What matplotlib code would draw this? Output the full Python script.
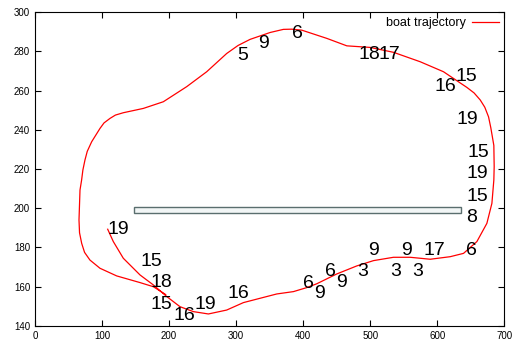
import matplotlib.pyplot as plt
from matplotlib.patches import Rectangle

plt.rcParams['font.family'] = ['Liberation Sans', 'DejaVu Sans']

# boat trajectory
traj_x = [108.5, 116.9, 131.8, 156.7, 176.6, 196.5, 216.4, 236.3, 258.7, 286,
          311, 335.8, 360.7, 385.6, 405, 420.4, 450.2, 480.1, 505, 534.8,
          559.7, 589.6, 619.4, 639.3, 659.2, 674.1, 681.6, 684.5, 685, 684.5,
          680, 676.6, 671, 664.2, 655, 644.3, 609.4, 574.6, 534.8, 500, 465.2,
          435.4, 398, 383, 370.6, 350.7, 320.9, 303, 286, 256.2, 226.4, 191.5,
          161.7, 131.8, 120, 111.9, 103, 97, 84.6, 78, 74.6, 71.5, 69.6, 67.2,
          65.7, 66.5, 69.7, 74, 82, 97, 121.9, 156.7, 176.6, 195]
traj_y = [189.3, 183, 174.5, 166, 160.9, 155, 149.8, 147.3, 146.1, 148.1,
          151.9, 154.1, 156.3, 157.5, 159.5, 161.5, 166.5, 170.6, 173.3, 175,
          175, 174, 175.3, 177, 183, 192.3, 202.5, 214.4, 221.2, 232,
          241, 246.6, 251.5, 255.2, 258.8, 261.6, 269.6, 274.7, 279.5, 282, 282.8,
          286.6, 290.8, 291.3, 291.2, 289.6, 286.1, 283, 278.9, 269.6, 262, 254.3,
          250.9, 248.7, 247.5, 245.8, 243.5, 240.7, 233.9, 229, 224.6, 219.5, 214.4, 209.3,
          194, 187.5, 182.1, 177.5, 173.6, 169.4, 165.5, 162.1, 160, 156]

# number labels
lab_text = ['19', '15', '18', '15', '16', '19', '16', '6', '9', '6', '9', '3',
            '9', '3', '9', '3', '17', '6', '8', '15', '19', '15', '19', '15',
            '16', '17', '18', '6', '9', '5']
lab_x = [108.5, 156.7, 172.7, 172.7, 206.4, 237.8, 287, 400.5, 416.4, 432.8,
         448.8, 481, 497.5, 529.9, 546.3, 563.2, 579.6, 643.3, 643.3, 643.3,
         643.3, 645.3, 629.4, 628, 596, 512.5, 482.6, 383.1, 333.3, 302]
lab_y = [189.4, 173.1, 162.3, 151.1, 145.2, 151.1, 156.3, 161.7, 156.7, 168,
         162.3, 168, 178.7, 168, 178.7, 168, 178.7, 178.7, 195.2, 206.2,
         217.5, 228.5, 245.5, 267.4, 262, 278.4, 278.4, 289.1, 284, 278.1]

# obstacle
rect_x0, rect_x1 = 147, 635
rect_y0, rect_y1 = 197.5, 200.5

fig = plt.figure(figsize=(5.14, 3.46), dpi=100)
ax = fig.add_axes([0.068, 0.058, 0.913, 0.907])

ax.add_patch(Rectangle((rect_x0, rect_y0), rect_x1 - rect_x0, rect_y1 - rect_y0,
                       facecolor='#f2f6f6', edgecolor='#5a6e6e', lw=1.0))
ax.plot(traj_x, traj_y, color='red', lw=0.9, label='boat trajectory')

for t, x, y in zip(lab_text, lab_x, lab_y):
    ax.text(x, y, t, fontsize=14, ha='left', va='center', color='black')

ax.set_xlim(0, 700)
ax.set_ylim(140, 300)
ax.set_xticks(range(0, 701, 100))
ax.set_yticks(range(140, 301, 20))
ax.tick_params(direction='in', top=True, right=True, labelsize=7, length=4)

ax.legend(loc='upper right', frameon=False, markerfirst=False, fontsize=9,
          handlelength=2.2, borderaxespad=0.1, borderpad=0.3,
          handletextpad=0.5)

fig.savefig('out.png', dpi=100)
